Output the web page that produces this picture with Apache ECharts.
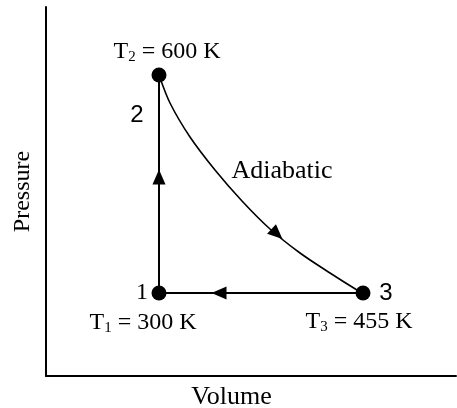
<!DOCTYPE html>
<html>
<head>
<meta charset="utf-8">
<script src="https://cdn.jsdelivr.net/npm/echarts@6/dist/echarts.min.js"></script>
<style>
html,body{margin:0;padding:0;background:#fff;}
#c{width:457px;height:408px;}
</style>
</head>
<body>
<div id="c"></div>
<script>
// State points (volume, pressure) in arbitrary plot units
const stateNames = ['1', '2', '3'];
const stateV = [113, 113, 317];
const stateP = [83, 301, 83];
const stateTempSub = ['1', '2', '3'];
const stateTemp = ['300', '600', '455'];

// Adiabatic curve 2 -> 3
const curveV = [113, 124, 144, 169, 196, 224, 254, 284, 311, 317];
const curveP = [301, 273, 239, 206, 175, 147, 123, 103, 86, 83];

// Direction arrows
const arrowV = [113, 173, 231];
const arrowP = [199, 83, 142];
const arrowAngle = [0, 90, -133];

const axisNames = { x: 'Volume', y: 'Pressure' };
const curveName = 'Adiabatic';

const serif = '"Liberation Serif", "Times New Roman", serif';
const sans = '"Liberation Sans", Arial, sans-serif';

const numOffsets = [[-17, 0], [-22, 40], [23, 0]];
const numFonts = [serif, sans, sans];
const tOffsets = [[-16, 30], [8, -23], [-4, 29]];

const chart = echarts.init(document.getElementById('c'), null, { renderer: 'canvas' });

const axisCommon = {
  type: 'value',
  min: 0,
  axisLine: { show: true, lineStyle: { color: '#000', width: 2 } },
  axisTick: { show: false },
  axisLabel: { show: false },
  splitLine: { show: false },
  nameLocation: 'middle'
};

const richT = {
  t: { fontFamily: serif, fontSize: 24, color: '#000', lineHeight: 28 },
  s: { fontFamily: serif, fontSize: 15, color: '#000', lineHeight: 28, padding: [10, 0, 0, 0] }
};

chart.setOption({
  animation: false,
  backgroundColor: '#fff',
  grid: { left: 46, right: 1, top: 7, bottom: 32, containLabel: false, outerBoundsMode: 'none' },
  xAxis: Object.assign({}, axisCommon, {
    max: 410, name: axisNames.x, nameGap: 8,
    nameTextStyle: { color: '#000', fontFamily: serif, fontSize: 26, padding: [0, 39, 0, 0] }
  }),
  yAxis: Object.assign({}, axisCommon, {
    max: 369, name: axisNames.y, nameGap: 11,
    nameTextStyle: { color: '#000', fontFamily: serif, fontSize: 24 }
  }),
  series: [
    {
      type: 'line',
      data: [[stateV[0], stateP[0]], [stateV[1], stateP[1]]],
      showSymbol: false,
      lineStyle: { color: '#000', width: 2 },
      z: 2
    },
    {
      type: 'line',
      data: [[stateV[2], stateP[2]], [stateV[0], stateP[0]]],
      showSymbol: false,
      lineStyle: { color: '#000', width: 2 },
      z: 2
    },
    {
      type: 'line',
      smooth: 0.3,
      data: curveV.map((v, i) => [v, curveP[i]]),
      showSymbol: false,
      lineStyle: { color: '#000', width: 1.6 },
      z: 2
    },
    {
      type: 'scatter',
      symbol: 'triangle',
      symbolSize: [13, 15],
      itemStyle: { color: '#000', opacity: 1 },
      data: arrowV.map((v, i) => ({ value: [v, arrowP[i]], symbolRotate: arrowAngle[i] })),
      z: 3
    },
    {
      type: 'scatter',
      symbol: 'circle',
      symbolSize: 15,
      itemStyle: { color: '#000', opacity: 1 },
      data: stateV.map((v, i) => ({
        value: [v, stateP[i]],
        label: {
          show: true,
          position: 'inside',
          offset: numOffsets[i],
          formatter: stateNames[i],
          fontFamily: numFonts[i],
          fontSize: 24,
          color: '#000',
          opacity: 1
        }
      })),
      z: 4
    },
    {
      type: 'scatter',
      symbolSize: 0,
      itemStyle: { color: 'transparent', opacity: 1 },
      silent: true,
      data: stateV.map((v, i) => ({
        value: [v, stateP[i]],
        label: {
          show: true,
          position: 'inside',
          offset: tOffsets[i],
          opacity: 1,
          formatter: '{t|T}{s|' + stateTempSub[i] + '}{t| = ' + stateTemp[i] + ' K}',
          rich: richT
        }
      })).concat([{
        value: [curveV[3], curveP[3]],
        label: {
          show: true,
          position: 'inside',
          offset: [67, 1],
          formatter: curveName,
          fontFamily: serif,
          fontSize: 26,
          color: '#000',
          opacity: 1
        }
      }]),
      z: 5
    }
  ]
});
</script>
</body>
</html>
